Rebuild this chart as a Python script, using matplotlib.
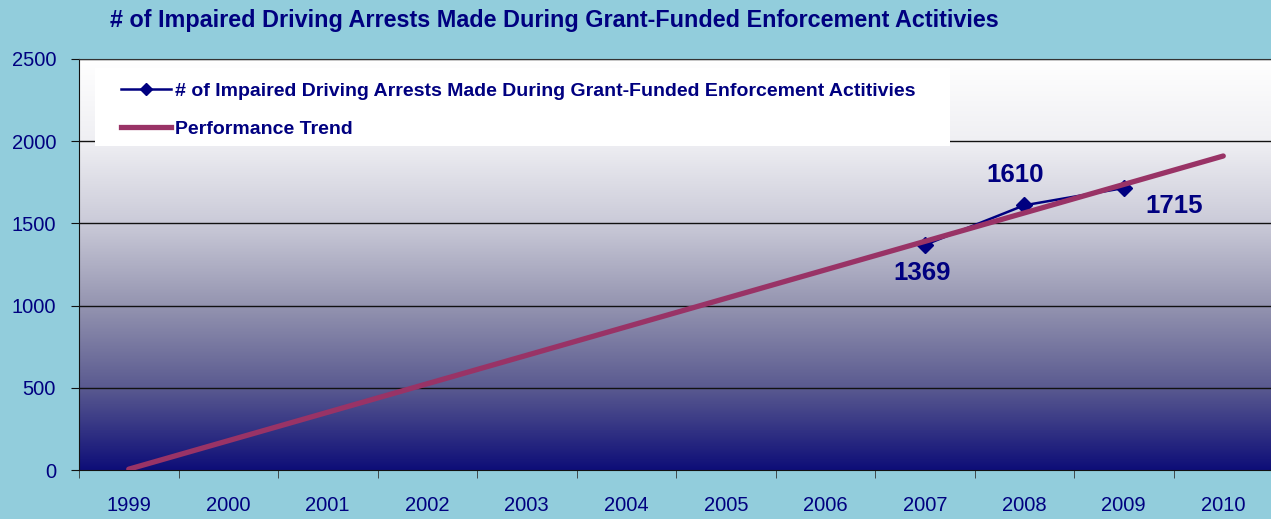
import numpy as np
import matplotlib.pyplot as plt
from matplotlib.colors import LinearSegmentedColormap
from matplotlib.patches import Rectangle
from matplotlib.lines import Line2D

plt.rcParams['font.family'] = ['Liberation Sans', 'DejaVu Sans']

NAVY = '#000080'
BG = '#92CDDC'
TREND_C = '#993366'

# データ
years = ['1999', '2000', '2001', '2002', '2003', '2004',
         '2005', '2006', '2007', '2008', '2009', '2010']
arrest_years = ['2007', '2008', '2009']
arrests = [1369, 1610, 1715]
trend_years = ['1999', '2010']
trend_vals = [5, 1910]
yticks = [0, 500, 1000, 1500, 2000, 2500]

title = '# of Impaired Driving Arrests Made During Grant-Funded Enforcement Actitivies'
label_arrests = '# of Impaired Driving Arrests Made During Grant-Funded Enforcement Actitivies'
label_trend = 'Performance Trend'

xpos = {y: i for i, y in enumerate(years)}

fig = plt.figure(figsize=(12.71, 5.19), dpi=100)
fig.patch.set_facecolor(BG)

ax = fig.add_axes([79 / 1271, 49 / 519, 1194 / 1271, 411 / 519])
ax.set_facecolor('white')

# 背景のグラデーション
cmap = LinearSegmentedColormap.from_list(
    'grad', [(0.0, '#0E0E78'), (0.2, '#5A5A90'), (0.4, '#9494B0'),
             (0.6, '#CACAD8'), (0.8, '#EFEFF3'), (1.0, '#FFFFFF')])
grad = np.linspace(0, 1, 256).reshape(-1, 1)
ax.imshow(grad, extent=[-0.5, 11.5, 0, 2500], origin='lower',
          aspect='auto', cmap=cmap, zorder=0)

ax.set_xlim(-0.5, 11.5)
ax.set_ylim(0, 2500)

# グリッド
for v in yticks[1:]:
    ax.axhline(v, color='#111111', lw=1.0, zorder=1)

# 凡例の白い箱
ax.add_patch(Rectangle((16 / 1194, 324 / 411), (950 - 95) / 1194, 78 / 411,
                       transform=ax.transAxes, facecolor='white',
                       edgecolor='none', zorder=2))

ax.plot([xpos[y] for y in arrest_years], arrests, color=NAVY, lw=1.8,
        marker='D', markersize=8, zorder=3)
ax.plot([xpos[y] for y in trend_years], trend_vals, color=TREND_C, lw=3.8,
        solid_capstyle='round', zorder=4)

# データラベル
offsets = [(-3, -28), (-9, 30), (50, -18)]
for y, v, off in zip(arrest_years, arrests, offsets):
    ax.annotate(str(v), (xpos[y], v), xytext=off, textcoords='offset pixels',
                ha='center', va='center', fontsize=18.6, fontweight='bold',
                color=NAVY, zorder=5)

ax.set_xticks(np.arange(len(years)))
ax.set_xticklabels(years)
ax.set_xticks(np.arange(len(years) + 1) - 0.5, minor=True)
ax.set_yticks(yticks)
ax.tick_params(axis='x', which='major', length=0, pad=19, labelsize=14.5,
               labelcolor=NAVY)
ax.tick_params(axis='x', which='minor', length=6, direction='out',
               color='#333333')
ax.tick_params(axis='y', length=6, direction='out', pad=10.5, labelsize=14.5,
               labelcolor=NAVY, color='#111111')

ax.spines['right'].set_visible(False)
ax.spines['top'].set_color('#333333')
ax.spines['left'].set_color('#111111')
ax.spines['bottom'].set_color('#111111')

# 凡例
handles = [Line2D([], [], color=NAVY, lw=1.8, marker='D', markersize=6),
           Line2D([], [], color=TREND_C, lw=3.8)]
leg = ax.legend(handles, [label_arrests, label_trend],
                loc='upper left', bbox_to_anchor=(24 / 1194, 1 - 6 / 411),
                frameon=False, handlelength=2.6, handletextpad=0.2,
                labelspacing=1.05, prop={'weight': 'bold', 'size': 14})
for t in leg.get_texts():
    t.set_color(NAVY)
leg.set_zorder(6)

fig.text(110 / 1271, 1 - 21 / 519, title, ha='left', va='center',
         fontsize=16.8, fontweight='bold', color=NAVY)

fig.savefig('out.png', dpi=100, facecolor=BG)
